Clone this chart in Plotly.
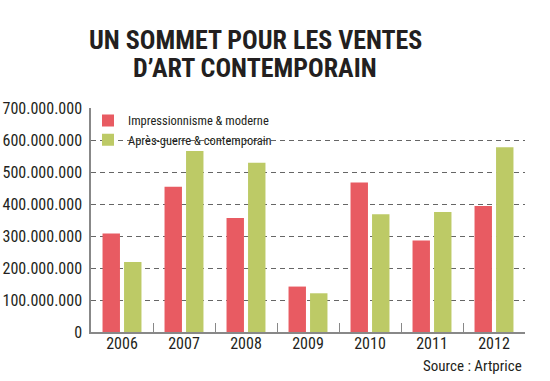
import plotly.graph_objects as go

years = ["2006", "2007", "2008", "2009", "2010", "2011", "2012"]
impressionnisme = [308e6, 454e6, 356e6, 142e6, 467e6, 286e6, 394e6]
apres_guerre = [219e6, 566e6, 529e6, 121e6, 368e6, 375e6, 577e6]
y_tickvals = [0, 100e6, 200e6, 300e6, 400e6, 500e6, 600e6, 700e6]
y_ticktext = ["0", "100.000.000", "200.000.000", "300.000.000", "400.000.000",
              "500.000.000", "600.000.000", "700.000.000"]

NARROW = "Roboto Condensed, DejaVu Sans Condensed, sans-serif"
TXT = "#231f20"

fig = go.Figure()
fig.add_trace(go.Bar(x=years, y=impressionnisme, name="Impressionnisme & moderne",
                     marker=dict(color="#e85b62", line=dict(width=0))))
fig.add_trace(go.Bar(x=years, y=apres_guerre, name="Après-guerre & contemporain",
                     marker=dict(color="#bdca66", line=dict(width=0))))

fig.update_layout(
    width=550, height=381,
    margin=dict(l=91, r=25, t=108, b=49, autoexpand=False),
    paper_bgcolor="white", plot_bgcolor="white",
    barmode="group", bargap=0.306, bargroupgap=0.19,
    font=dict(family=NARROW, color=TXT, size=16),
    showlegend=True,
    legend=dict(x=-3 / 434, y=1.01, xanchor="left", yanchor="top",
                bgcolor="rgba(0,0,0,0)", font=dict(size=12.5, family=NARROW, color=TXT),
                tracegroupgap=0, itemwidth=30),
    xaxis=dict(type="category", range=[-0.5, 6.5], showline=True, linecolor="#888888",
               linewidth=1.5, ticks="inside", tickson="boundaries", ticklen=9,
               tickcolor="#888888", tickwidth=1, showgrid=False, automargin=False,
               ticklabelstandoff=-4,
               tickfont=dict(size=16, family=NARROW, color=TXT)),
    yaxis=dict(range=[0, 700e6], tickvals=y_tickvals, ticktext=y_ticktext,
               showline=True, linecolor="#888888", linewidth=1.5, automargin=False,
               showgrid=True, gridcolor="#666666", gridwidth=1, griddash="5px,4px",
               zeroline=False, ticks="", ticklabelstandoff=4,
               tickfont=dict(size=16, family=NARROW, color=TXT)),
)

# white backdrop behind the legend: above the gridlines, below the bars
fig.add_shape(type="rect", xref="paper", yref="paper", layer="between",
              x0=3 / 434, x1=(272 - 91) / 434, y0=(332 - 149) / 224, y1=(332 - 110) / 224,
              fillcolor="white", line=dict(width=0))

fig.add_annotation(text="<b>UN SOMMET POUR LES VENTES</b>", xref="paper", yref="paper",
                   x=(255 - 91) / 434, y=(332 - 40) / 224, xanchor="center", yanchor="middle",
                   showarrow=False, font=dict(size=26, family=NARROW, color=TXT))
fig.add_annotation(text="<b>D’ART CONTEMPORAIN</b>", xref="paper", yref="paper",
                   x=(255 - 91) / 434, y=(332 - 68) / 224, xanchor="center", yanchor="middle",
                   showarrow=False, font=dict(size=26, family=NARROW, color=TXT))
fig.add_annotation(text="Source : Artprice", xref="paper", yref="paper",
                   x=(524 - 91) / 434, y=(332 - 366) / 224, xanchor="right", yanchor="middle",
                   showarrow=False, font=dict(size=15, family=NARROW, color=TXT))

fig.write_html("out.html", config={"displayModeBar": False},
               post_script="document.body.style.margin='0';")
